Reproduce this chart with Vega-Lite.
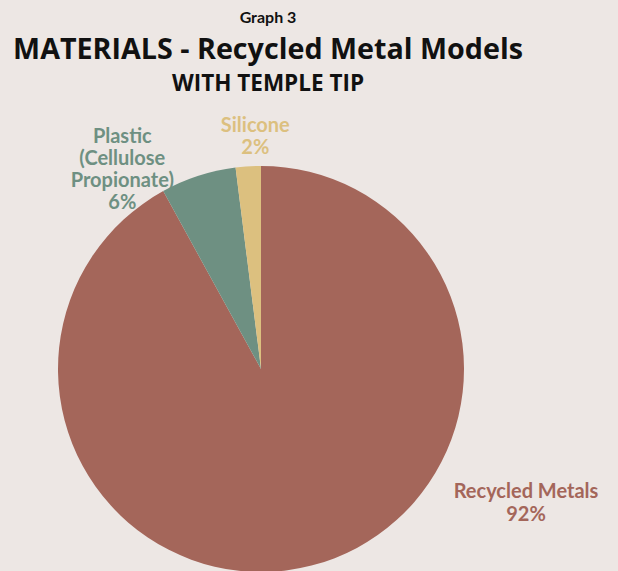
{
  "$schema": "https://vega.github.io/schema/vega-lite/v6.json",
  "autosize": "none",
  "width": 522,
  "height": 404,
  "padding": {"left": 0, "right": 96, "top": 167, "bottom": 0},
  "background": "#ede7e4",
  "title": {
    "text": "MATERIALS - Recycled Metal Models",
    "subtitle": "WITH TEMPLE TIP",
    "anchor": "middle",
    "frame": "group",
    "dx": 7,
    "offset": -85,
    "font": "Open Sans",
    "fontSize": 28.7,
    "fontWeight": "bold",
    "color": "#111111",
    "subtitleFont": "Open Sans",
    "subtitleFontSize": 22.5,
    "subtitleFontWeight": "bold",
    "subtitleColor": "#111111",
    "subtitlePadding": 8
  },
  "data": {
    "values": [
      {"material": "Recycled Metals", "value": 92, "label": "Recycled Metals\n92%"},
      {"material": "Plastic", "value": 6, "label": "Plastic\n(Cellulose\nPropionate)\n6%"},
      {"material": "Silicone", "value": 2, "label": "Silicone\n2%"}
    ]
  },
  "encoding": {
    "theta": {"field": "value", "type": "quantitative", "stack": true},
    "order": {"field": "value", "type": "quantitative", "sort": "descending"},
    "color": {
      "field": "material",
      "type": "nominal",
      "scale": {"domain": ["Recycled Metals", "Plastic", "Silicone"], "range": ["#a4665a", "#6e9082", "#dcc07f"]},
      "legend": null
    }
  },
  "layer": [
    {"mark": {"type": "arc", "radius": 203, "stroke": null}},
    {
      "mark": {"type": "text", "radius": 234, "dx": 9, "dy": -9, "font": "Lato", "fontSize": 20, "fontWeight": "bold", "lineBreak": "\n", "lineHeight": 22, "baseline": "middle", "align": "center"},
      "encoding": {"text": {"condition": {"test": "datum.material === 'Silicone'", "field": "label"}, "value": ""}}
    },
    {
      "mark": {"type": "text", "radius": 245, "dx": -63, "dy": 1, "font": "Lato", "fontSize": 20, "fontWeight": "bold", "lineBreak": "\n", "lineHeight": 22, "baseline": "middle", "align": "center"},
      "encoding": {"text": {"condition": {"test": "datum.material === 'Plastic'", "field": "label"}, "value": ""}}
    },
    {
      "mark": {"type": "text", "radius": 0, "dx": 265, "dy": 123, "font": "Lato", "fontSize": 20, "fontWeight": "bold", "lineBreak": "\n", "lineHeight": 23, "baseline": "middle", "align": "center"},
      "encoding": {"text": {"condition": {"test": "datum.material === 'Recycled Metals'", "field": "label"}, "value": ""}}
    },
    {
      "data": {"values": [{"caption": "Graph 3"}]},
      "mark": {"type": "text", "theta": 0, "radius": 346, "dx": 7, "font": "Lato", "fontSize": 16, "fontWeight": "bold", "baseline": "alphabetic", "align": "center", "color": "#111111"},
      "encoding": {"text": {"field": "caption", "type": "nominal"}, "theta": null, "order": null, "color": null}
    }
  ],
  "config": {"view": {"stroke": null}}
}
